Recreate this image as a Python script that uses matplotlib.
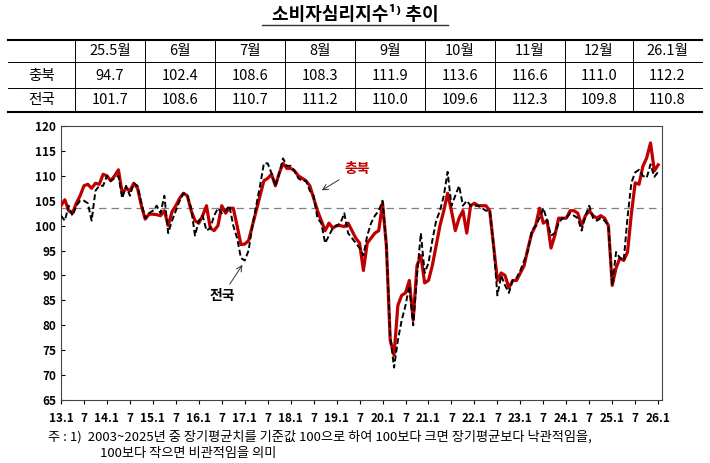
import numpy as np
import matplotlib.pyplot as plt
from matplotlib.lines import Line2D

plt.rcParams['font.family'] = ['Noto Sans CJK KR', 'DejaVu Sans']

# monthly index, 2013.1 ~ 2026.1
chungbuk = [
    104.0, 105.2, 103.0, 102.5, 104.5, 106.0, 108.0, 108.3, 107.5, 108.5, 108.3, 110.3,
    110.0, 109.0, 110.0, 111.2, 106.5, 107.5, 107.0, 108.5, 107.5, 104.0, 101.3, 102.3,
    102.3, 102.2, 102.0, 103.0, 100.0, 102.8, 104.0, 105.5, 106.5, 106.0, 103.0, 101.0,
    100.5, 102.0, 104.0, 99.5, 99.0, 100.0, 104.0, 102.5, 103.5, 103.5, 100.0, 96.2,
    96.3, 97.0, 100.0, 103.0, 106.0, 109.0, 109.5, 110.3, 108.0, 110.5, 112.5, 111.5,
    111.5, 111.0, 110.0, 109.5, 109.0, 108.0, 105.5, 103.0, 101.0, 99.0, 100.5, 99.5,
    100.0, 100.0, 99.8, 100.5, 99.0, 97.5, 96.5, 91.0, 96.5, 97.5, 98.5, 99.0,
    104.5, 96.0, 77.0, 74.0, 84.0, 86.0, 86.5, 89.0, 81.0, 92.0, 94.0, 88.5,
    89.0, 92.0, 96.0, 100.0, 103.0, 106.5, 103.0, 99.0, 101.5, 103.0, 98.5, 104.0,
    104.5, 104.0, 104.0, 104.0, 103.0, 96.0, 89.0, 90.5, 90.0, 87.5, 89.0, 89.0,
    90.5, 92.0, 95.5, 98.5, 100.0, 103.5, 100.5, 101.0, 95.5, 98.0, 101.5, 101.5,
    101.5, 103.0, 103.0, 102.5, 100.0, 102.0, 103.0, 102.0, 101.5, 102.0, 101.5, 100.0,
    88.0, 91.5, 93.5, 93.0, 94.7, 102.4, 108.6, 108.3, 111.9, 113.6, 116.6, 111.0,
    112.2,
]
national = [
    102.0, 101.0, 104.0, 102.0, 104.0, 105.0, 105.0, 104.5, 101.0, 107.0, 108.0, 108.0,
    110.0, 109.0, 109.5, 110.0, 105.5, 108.0, 106.0, 108.5, 108.0, 104.5, 101.5, 102.5,
    103.0, 104.0, 102.5, 106.0, 98.5, 101.0, 103.0, 105.0, 106.5, 106.0, 103.5, 98.0,
    101.0, 102.0, 99.0, 99.5, 102.0, 103.5, 102.5, 103.0, 104.0, 100.0, 97.5, 93.5,
    93.0, 95.0, 100.0, 104.0, 108.0, 112.5, 112.5, 110.5, 108.0, 110.5, 113.5, 112.0,
    112.0, 111.0, 109.5, 109.0, 109.0, 107.0, 106.0, 101.5, 100.5, 96.5, 98.0, 99.5,
    100.0, 100.5, 102.5, 98.5, 97.5, 96.5, 95.5, 94.0, 98.0, 100.5, 102.0, 103.0,
    105.0, 96.0, 78.0, 71.5, 77.0, 81.0, 84.0, 88.0, 80.0, 90.0, 98.5, 90.5,
    92.5, 97.0, 101.0, 103.0, 106.0, 110.8, 104.0, 106.0, 108.0, 104.0, 105.0, 104.0,
    104.0, 104.0, 103.5, 103.0, 103.0, 96.0, 86.0, 90.0, 88.0, 86.5, 89.0, 89.5,
    91.0, 93.0, 95.0, 99.0, 100.0, 101.5, 103.5, 101.0, 98.0, 98.5, 100.5, 101.5,
    101.5, 102.5, 102.0, 101.5, 99.0, 102.0, 104.0, 101.5, 101.0, 101.5, 101.0, 100.0,
    88.0, 94.7, 93.5, 93.0, 101.7, 108.6, 110.7, 111.2, 110.0, 109.6, 112.3, 109.8,
    110.8,
]
long_run_avg = 103.6

table_cols = ['25.5월', '6월', '7월', '8월', '9월', '10월', '11월', '12월', '26.1월']
table_cb = ['94.7', '102.4', '108.6', '108.3', '111.9', '113.6', '116.6', '111.0', '112.2']
table_nat = ['101.7', '108.6', '110.7', '111.2', '110.0', '109.6', '112.3', '109.8', '110.8']

W, H = 710, 463
fig = plt.figure(figsize=(W / 100, H / 100), dpi=100)


def fx(px):
    return px / W


def fy(py):
    return 1 - py / H


# title
fig.text(fx(355), fy(14), '소비자심리지수¹⁾ 추이', ha='center', va='center',
         fontsize=13, fontweight='bold', family=['Noto Sans CJK KR', 'DejaVu Sans'])
fig.add_artist(Line2D([fx(262), fx(448)], [fy(25), fy(25)], color='#333', lw=1))

# table
edges = [8, 75, 145, 215, 285, 355, 425, 495, 565, 633, 702]
for y, lw in [(40, 1.5), (62, 0.7), (88, 0.7), (112, 1.5)]:
    fig.add_artist(Line2D([fx(8), fx(702)], [fy(y), fy(y)], color='black', lw=lw))
for x in edges[1:-1]:
    fig.add_artist(Line2D([fx(x), fx(x)], [fy(40), fy(112)], color='black', lw=0.7))
rows = [(51, [''] + table_cols), (76, ['충북'] + table_cb), (100, ['전국'] + table_nat)]
for y, vals in rows:
    for i, v in enumerate(vals):
        cx = (edges[i] + edges[i + 1]) / 2
        fig.text(fx(cx), fy(y), v, ha='center', va='center', fontsize=10.5)

# chart
ax = fig.add_axes([fx(61), fy(400), fx(662 - 61), (400 - 126) / H])
x = np.arange(len(chungbuk))
ax.plot(x, chungbuk, color='#c00000', lw=2.3, zorder=3)
ax.plot(x, national, color='black', lw=1.4, ls=(0, (3, 1.5)), zorder=4)
ax.axhline(long_run_avg, color='#808080', lw=0.9, ls=(0, (6, 4)), zorder=2)

ax.set_xlim(0, len(chungbuk))
ax.set_ylim(65, 120)
ax.set_yticks(np.arange(65, 121, 5))
ticks = np.arange(0, len(chungbuk), 6)
labels = []
for t_ in ticks:
    yr, m = 13 + t_ // 12, t_ % 12 + 1
    labels.append(f'{yr}.1' if m == 1 else '7')
ax.set_xticks(ticks)
ax.set_xticklabels(labels)
ax.tick_params(axis='both', labelsize=8.5, length=3, direction='in')
ax.tick_params(axis='x', pad=6, direction='out')
for lab in ax.get_xticklabels() + ax.get_yticklabels():
    lab.set_fontweight('bold')
for s in ax.spines.values():
    s.set_color('#444')

ax.annotate('충북', xy=(67.5, 106.8), xytext=(74, 111.4), color='#c00000',
            fontsize=10, fontweight='bold', ha='left', va='center',
            arrowprops=dict(arrowstyle='->', color='#333', lw=0.7))
ax.annotate('전국', xy=(47.8, 92.6), xytext=(42, 85.8), color='black',
            fontsize=10, fontweight='bold', ha='center', va='center',
            arrowprops=dict(arrowstyle='->', color='#333', lw=0.7))

fig.text(fx(48), fy(437), '주 : 1)  2003~2025년 중 장기평균치를 기준값 100으로 하여 100보다 크면 장기평균보다 낙관적임을,',
         ha='left', va='center', fontsize=9.5)
fig.text(fx(100), fy(454), '100보다 작으면 비관적임을 의미', ha='left', va='center', fontsize=9.5)

fig.savefig('out.png', dpi=100)
